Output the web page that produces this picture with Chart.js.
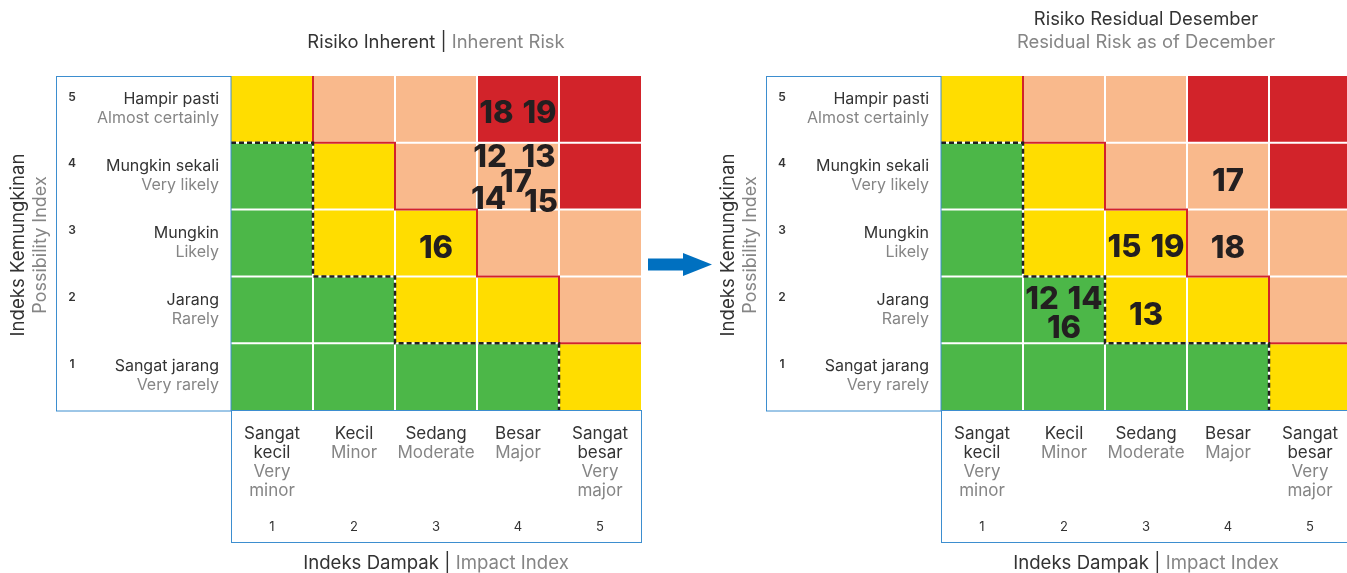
<!DOCTYPE html>
<html lang="id">
<head>
<meta charset="UTF-8">
<title>Peta Risiko</title>
<script src="https://cdn.jsdelivr.net/npm/chart.js"></script>
<style>
    body {
        margin: 0;
        background: #fff;
        width: 1347px;
        height: 573px;
        overflow: hidden;
        position: relative;
    }

    canvas {
        position: absolute;
        top: 0;
    }

    #inherentChart { left: 0; }
    #residualChart { left: 710px; }
</style>
</head>
<body>
<canvas id="inherentChart" width="720" height="573"></canvas>
<canvas id="residualChart" width="720" height="573"></canvas>

<script>
    // Skala dampak (kolom) dan kemungkinan (baris)
    const impactIndex = ['1', '2', '3', '4', '5'];
    const impactLabelsId = [['Sangat', 'kecil'], ['Kecil'], ['Sedang'], ['Besar'], ['Sangat', 'besar']];
    const impactLabelsEn = [['Very', 'minor'], ['Minor'], ['Moderate'], ['Major'], ['Very', 'major']];
    const likelihoodIndex = ['1', '2', '3', '4', '5'];
    const likelihoodLabelsId = ['Sangat jarang', 'Jarang', 'Mungkin', 'Mungkin sekali', 'Hampir pasti'];
    const likelihoodLabelsEn = ['Very rarely', 'Rarely', 'Likely', 'Very likely', 'Almost certainly'];

    // Tingkat risiko tiap sel: baris = kemungkinan 1..5, kolom = dampak 1..5
    const riskLevels = [
        [0, 0, 0, 0, 1],
        [0, 0, 1, 1, 2],
        [0, 1, 1, 2, 2],
        [0, 1, 2, 2, 3],
        [1, 2, 2, 3, 3]
    ];
    const levelColors = ['#4cb748', '#ffdd00', '#f9b98c', '#d2232a'];

    // Nomor risiko beserta posisi inheren dan residual (dampak, kemungkinan)
    const riskIds = [12, 13, 14, 15, 16, 17, 18, 19];
    const inherentImpact = [4, 4, 4, 4, 3, 4, 4, 4];
    const inherentLikelihood = [4, 4, 4, 4, 3, 4, 5, 5];
    const residualImpact = [2, 3, 2, 3, 2, 4, 4, 3];
    const residualLikelihood = [2, 2, 2, 3, 2, 4, 3, 3];

    // Garis batas antar tingkat: titik sudut (garis kolom ke-k, nilai kemungkinan)
    const highBoundary = [[1, 5], [1, 4], [2, 4], [2, 3], [3, 3], [3, 2], [4, 2], [4, 1], [5, 1]];
    const lowBoundary = [[0, 4], [1, 4], [1, 2], [2, 2], [2, 1], [4, 1], [4, 0]];

    const DARK = '#333333';
    const GRAY = '#858585';
    const FRAME = '#3d8ecf';
    const FONT = 'Inter, "Noto Sans", sans-serif';

    // susunan nomor di dalam satu sel, tergantung jumlahnya
    const clusterOffsets = {
        1: [[0, 3]],
        2: [[-21.5, 2], [21.5, 2]],
        3: [[-22, -12.5], [21, -12.5], [0, 16.5]],
        5: [[-28, -21], [20.5, -21.5], [-29.5, 20.5], [23, 23.5], [-2, 4]]
    };

    function drawSegments(ctx, segments, cx, cy, font) {
        ctx.font = font;
        ctx.textBaseline = 'middle';
        ctx.textAlign = 'left';
        const total = segments.reduce((s, seg) => s + ctx.measureText(seg.text).width, 0);
        let xx = cx - total / 2;
        segments.forEach(seg => {
            ctx.fillStyle = seg.color;
            ctx.fillText(seg.text, xx, cy);
            xx += ctx.measureText(seg.text).width;
        });
    }

    function drawPath(ctx, points, xEdge, yEdge, color, width, dash) {
        ctx.beginPath();
        points.forEach((p, i) => {
            const px = xEdge(p[0]);
            const py = yEdge(p[1]);
            if (i === 0) ctx.moveTo(px, py); else ctx.lineTo(px, py);
        });
        ctx.strokeStyle = color;
        ctx.lineWidth = width;
        ctx.setLineDash(dash);
        ctx.lineCap = 'butt';
        ctx.lineJoin = 'miter';
        ctx.stroke();
        ctx.setLineDash([]);
    }

    const riskMapPlugin = {
        id: 'riskMap',
        afterDatasetsDraw(chart, args, opts) {
            const ctx = chart.ctx;
            const xs = chart.scales.x;
            const ys = chart.scales.y;
            const xEdge = k => xs.getPixelForValue(k - 0.5);
            const yEdge = v => ys.getPixelForValue(v);

            ctx.save();
            drawPath(ctx, highBoundary, xEdge, yEdge, '#d2232a', 2, []);
            drawPath(ctx, lowBoundary, xEdge, yEdge, '#231f20', 2.5, [5, 3]);

            // kelompokkan nomor risiko per sel
            const cells = {};
            riskIds.forEach((id, i) => {
                const key = opts.impact[i] + '-' + opts.likelihood[i];
                (cells[key] = cells[key] || []).push(i);
            });
            ctx.font = '800 31px ' + FONT;
            ctx.textAlign = 'center';
            ctx.textBaseline = 'alphabetic';
            ctx.fillStyle = '#231f20';
            Object.values(cells).forEach(list => {
                list.sort((a, b) => riskIds[a] - riskIds[b]);
                const offs = clusterOffsets[list.length];
                list.forEach((i, n) => {
                    const cx = xs.getPixelForValue(opts.impact[i] - 1);
                    const cy = ys.getPixelForValue(opts.likelihood[i] - 0.5);
                    ctx.fillText(String(riskIds[i]), cx + offs[n][0], cy + offs[n][1] + 12);
                });
            });
            ctx.restore();
        },
        afterDraw(chart, args, opts) {
            const ctx = chart.ctx;
            const area = chart.chartArea;
            const xs = chart.scales.x;
            const ys = chart.scales.y;
            ctx.save();

            // bingkai label sumbu
            ctx.strokeStyle = FRAME;
            ctx.lineWidth = 1;
            ctx.strokeRect(area.left - 174.5, area.top + 0.5, 174.5, area.bottom - area.top + 0.5);
            ctx.strokeRect(area.left + 0.5, area.bottom + 0.5, area.right - area.left, 132);

            // label kemungkinan (baris)
            likelihoodIndex.forEach((idx, r) => {
                const cy = ys.getPixelForValue(r + 0.5);
                ctx.textBaseline = 'middle';
                ctx.textAlign = 'center';
                ctx.font = '600 12px ' + FONT;
                ctx.fillStyle = DARK;
                ctx.fillText(idx, area.left - 159, cy - 12.5);
                ctx.textAlign = 'right';
                ctx.font = '16px ' + FONT;
                ctx.fillText(likelihoodLabelsId[r], area.left - 12, cy - 10);
                ctx.fillStyle = GRAY;
                ctx.fillText(likelihoodLabelsEn[r], area.left - 12, cy + 9);
            });

            // label dampak (kolom)
            impactIndex.forEach((idx, c) => {
                const cx = xs.getPixelForValue(c);
                ctx.textAlign = 'center';
                ctx.textBaseline = 'middle';
                ctx.font = '17px ' + FONT;
                let yy = area.bottom + 24;
                impactLabelsId[c].forEach(t => {
                    ctx.fillStyle = DARK;
                    ctx.fillText(t, cx, yy);
                    yy += 19;
                });
                impactLabelsEn[c].forEach(t => {
                    ctx.fillStyle = GRAY;
                    ctx.fillText(t, cx, yy);
                    yy += 19;
                });
                ctx.font = '13px ' + FONT;
                ctx.fillStyle = DARK;
                ctx.fillText(idx, cx, area.bottom + 117.5);
            });

            const midX = (area.left + area.right) / 2;
            const midY = (area.top + area.bottom) / 2;

            // judul
            const lines = opts.title;
            lines.forEach((segs, i) => {
                drawSegments(ctx, segs, midX, area.top - 34 - (lines.length - 1 - i) * 23, '18.4px ' + FONT);
            });

            // judul sumbu dampak
            drawSegments(ctx, [
                {text: 'Indeks Dampak | ', color: DARK},
                {text: 'Impact Index', color: GRAY}
            ], midX, area.bottom + 153.5, '18.6px ' + FONT);

            // judul sumbu kemungkinan
            ctx.translate(0, midY + 2);
            ctx.rotate(-Math.PI / 2);
            drawSegments(ctx, [{text: 'Indeks Kemungkinan', color: DARK}], 0, 18.5, '18.6px ' + FONT);
            drawSegments(ctx, [{text: 'Possibility Index', color: GRAY}], 0, 40.5, '18px ' + FONT);
            ctx.setTransform(1, 0, 0, 1, 0, 0);

            // panah ke peta residual
            if (opts.arrow) {
                const ay = midY + 21.5;
                const ax = area.right + 7;
                ctx.fillStyle = '#0070c0';
                ctx.fillRect(ax, ay - 6, 36, 12);
                ctx.beginPath();
                ctx.moveTo(ax + 35, ay - 11.5);
                ctx.lineTo(ax + 64, ay);
                ctx.lineTo(ax + 35, ay + 11.5);
                ctx.closePath();
                ctx.fill();
            }
            ctx.restore();
        }
    };

    function buildChart(canvasId, impact, likelihood, title, arrow) {
        const datasets = riskLevels.map((row, r) => ({
            label: likelihoodLabelsId[r],
            data: impactIndex.map(() => 1),
            backgroundColor: row.map(l => levelColors[l]),
            borderColor: '#ffffff',
            borderWidth: c => ({
                left: c.dataIndex > 0 ? 1 : 0,
                right: c.dataIndex < impactIndex.length - 1 ? 1 : 0,
                top: r < riskLevels.length - 1 ? 1 : 0,
                bottom: r > 0 ? 1 : 0
            }),
            borderSkipped: false,
            inflateAmount: 0,
            barPercentage: 1,
            categoryPercentage: 1
        }));

        return new Chart(document.getElementById(canvasId), {
            type: 'bar',
            data: {labels: impactIndex, datasets: datasets},
            plugins: [riskMapPlugin],
            options: {
                responsive: false,
                devicePixelRatio: 1,
                animation: false,
                events: [],
                layout: {padding: {left: 231, top: 76, right: 79, bottom: 163}},
                scales: {
                    x: {type: 'category', stacked: true, offset: true, display: false},
                    y: {type: 'linear', stacked: true, min: 0, max: 5, display: false}
                },
                plugins: {
                    legend: {display: false},
                    tooltip: {enabled: false},
                    riskMap: {impact: impact, likelihood: likelihood, title: title, arrow: arrow}
                }
            }
        });
    }

    buildChart('inherentChart', inherentImpact, inherentLikelihood, [[
        {text: 'Risiko Inherent | ', color: DARK},
        {text: 'Inherent Risk', color: GRAY}
    ]], true);

    buildChart('residualChart', residualImpact, residualLikelihood, [
        [{text: 'Risiko Residual Desember', color: DARK}],
        [{text: 'Residual Risk as of December', color: GRAY}]
    ], false);
</script>
</body>
</html>
